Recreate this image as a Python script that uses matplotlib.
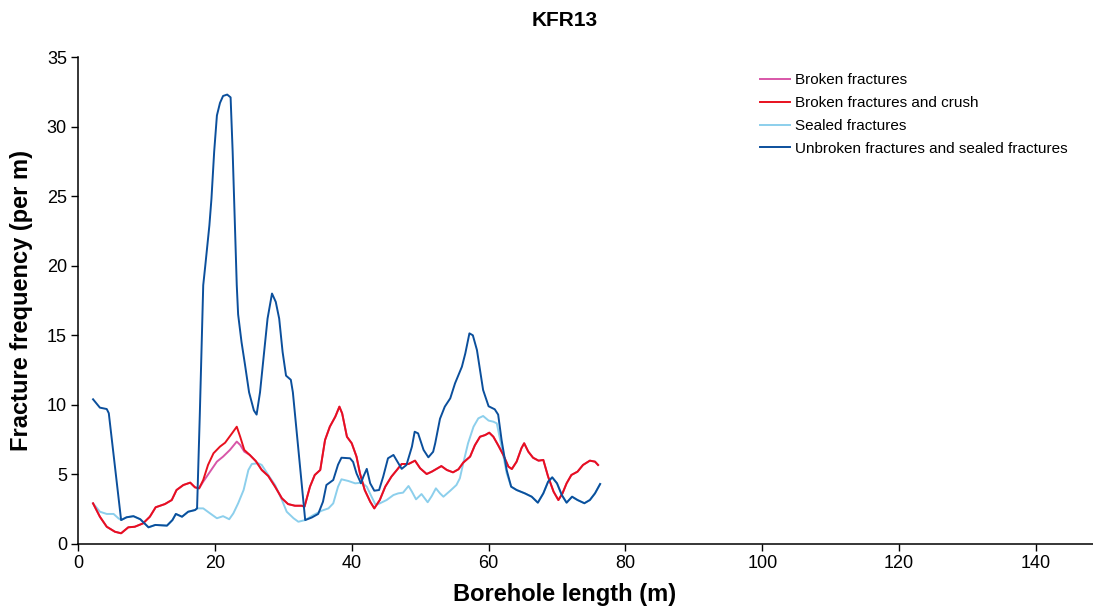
import matplotlib
matplotlib.use("Agg")
import matplotlib.pyplot as plt

plt.rcParams['font.family'] = ['Liberation Sans', 'DejaVu Sans']

title = "KFR13"
xlabel = "Borehole length (m)"
ylabel = "Fracture frequency (per m)"
labels = ["Broken fractures", "Broken fractures and crush",
          "Sealed fractures", "Unbroken fractures and sealed fractures"]
colors = ["#D856A8", "#E8101E", "#8CCFEC", "#0B4F9C"]
xticks = [0, 20, 40, 60, 80, 100, 120, 140]
yticks = [0, 5, 10, 15, 20, 25, 30, 35]

# Unbroken fractures and sealed fractures
blue_x = [2.2, 3.2, 4.2, 4.5, 6.3, 7.1, 8.1, 9.1, 10.3, 11.3, 13.0, 13.8, 14.3, 15.2,
          16.1, 17.1, 17.4, 17.8, 18.3, 18.6, 19.2, 19.5, 19.9, 20.3, 20.75, 21.2, 21.8,
          22.3, 22.6, 22.9, 23.2, 23.4, 23.9, 24.4, 25.0, 25.7, 26.1, 26.6, 27.2, 27.7,
          28.35, 28.9, 29.4, 29.9, 30.4, 31.1, 31.4, 33.2, 34.15, 35.1, 35.8, 36.3, 37.3,
          38.0, 38.5, 39.75, 40.2, 40.7, 41.35, 41.7, 42.2, 42.7, 43.3, 44.0, 44.6, 45.3,
          46.1, 46.7, 47.3, 48.0, 48.8, 49.2, 49.7, 50.5, 51.2, 51.9, 52.2, 52.9, 53.6,
          54.4, 55.1, 56.1, 56.6, 57.2, 57.7, 58.3, 58.75, 59.2, 60.0, 60.9, 61.4, 61.9,
          62.65, 63.3, 64.1, 65.3, 66.3, 67.2, 68.0, 68.7, 69.3, 70.0, 70.7, 71.4, 72.2,
          73.0, 74.0, 74.8, 75.55, 76.3]
blue_y = [10.4, 9.8, 9.7, 9.4, 1.72, 1.92, 2.0, 1.78, 1.2, 1.37, 1.32, 1.72, 2.16, 1.96,
          2.32, 2.44, 2.56, 9.3, 18.6, 20.0, 22.9, 24.8, 28.2, 30.8, 31.7, 32.2, 32.3,
          32.1, 28.2, 23.4, 18.6, 16.5, 14.5, 12.9, 10.9, 9.6, 9.3, 10.9, 13.8, 16.2,
          18.0, 17.4, 16.2, 13.8, 12.1, 11.8, 10.9, 1.72, 1.9, 2.16, 3.04, 4.24, 4.6,
          5.7, 6.2, 6.16, 5.9, 5.08, 4.36, 4.84, 5.4, 4.36, 3.83, 3.88, 4.84, 6.16,
          6.4, 5.9, 5.4, 5.68, 7.0, 8.07, 7.95, 6.76, 6.23, 6.63, 7.24, 9.0, 9.87,
          10.47, 11.55, 12.74, 13.7, 15.14, 15.0, 13.94, 12.5, 11.07, 9.9, 9.68, 9.3, 7.47,
          5.3, 4.12, 3.88, 3.64, 3.4, 2.97, 3.64, 4.48, 4.79, 4.36, 3.52, 2.97, 3.4,
          3.16, 2.93, 3.16, 3.64, 4.31]

# Broken fractures and crush
red_x = [2.2, 3.2, 4.2, 5.4, 6.3, 7.35, 8.3, 9.5, 10.5, 11.35, 12.7, 13.7, 14.4, 15.4,
         16.4, 17.1, 17.7, 18.3, 19.0, 19.8, 20.75, 21.5, 22.5, 23.2, 23.7, 24.3, 25.1,
         26.0, 26.85, 27.8, 28.8, 29.8, 30.7, 31.7, 32.7, 33.1, 33.9, 34.6, 35.4, 36.1,
         36.8, 37.6, 38.2, 38.6, 39.3, 40.0, 40.7, 41.2, 41.9, 42.7, 43.3, 44.1, 44.9,
         45.8, 46.6, 47.3, 48.3, 49.25, 50.0, 50.95, 51.7, 53.1, 53.9, 54.8, 55.6, 56.3,
         57.3, 58.0, 58.75, 59.5, 60.1, 60.7, 61.4, 62.15, 62.9, 63.4, 64.1, 64.8, 65.2,
         65.8, 66.5, 67.3, 68.0, 68.7, 69.5, 70.2, 70.8, 71.4, 72.1, 73.0, 73.8, 74.8,
         75.55, 76.0]
red_y = [2.92, 1.96, 1.24, 0.88, 0.77, 1.2, 1.24, 1.48, 1.96, 2.64, 2.87, 3.16, 3.88, 4.24,
         4.41, 4.07, 4.0, 4.6, 5.68, 6.52, 7.0, 7.28, 7.95, 8.43, 7.71, 6.76, 6.4,
         5.95, 5.32, 4.89, 4.12, 3.28, 2.87, 2.75, 2.75, 2.68, 4.12, 4.96, 5.32, 7.47,
         8.43, 9.15, 9.87, 9.39, 7.71, 7.24, 6.28, 5.08, 3.88, 3.04, 2.56, 3.16, 4.12,
         4.84, 5.32, 5.75, 5.75, 5.99, 5.44, 5.03, 5.2, 5.6, 5.32, 5.15, 5.37, 5.85,
         6.28, 7.1, 7.71, 7.83, 8.0, 7.71, 7.1, 6.4, 5.56, 5.39, 5.92, 6.88, 7.24,
         6.64, 6.2, 5.99, 6.04, 4.84, 3.76, 3.16, 3.64, 4.36, 4.96, 5.2, 5.68, 5.99,
         5.92, 5.68]

# Broken fractures
pink_x = [2.2, 3.2, 4.2, 5.4, 6.3, 7.35, 8.3, 9.5, 10.5, 11.35, 12.7, 13.7, 14.4, 15.4,
          16.4, 17.1, 17.7, 18.3, 19.3, 20.3, 21.2, 22.2, 23.2, 23.7, 24.3, 25.1,
          26.0, 26.85, 27.8, 28.8, 29.8, 30.7, 31.7, 32.7, 33.1, 33.9, 34.6, 35.4, 36.1,
          36.8, 37.6, 38.2, 38.6, 39.3, 40.0, 40.7, 41.2, 41.9, 42.7, 43.3, 44.1, 44.9,
          45.8, 46.6, 47.3, 48.3, 49.25, 50.0, 50.95, 51.7, 53.1, 53.9, 54.8, 55.6, 56.3,
          57.3, 58.0, 58.75, 59.5, 60.1, 60.7, 61.4, 62.15, 62.9, 63.4, 64.1, 64.8, 65.2,
          65.8, 66.5, 67.3, 68.0, 68.7, 69.5, 70.2, 70.8, 71.4, 72.1, 73.0, 73.8, 74.8,
          75.55, 76.0]
pink_y = [2.92, 1.96, 1.24, 0.88, 0.77, 1.2, 1.24, 1.48, 1.96, 2.64, 2.87, 3.16, 3.88, 4.24,
          4.41, 4.07, 4.0, 4.48, 5.2, 5.92, 6.28, 6.76, 7.36, 7.12, 6.64, 6.4,
          5.95, 5.32, 4.89, 4.12, 3.28, 2.87, 2.75, 2.75, 2.68, 4.12, 4.96, 5.32, 7.47,
          8.43, 9.15, 9.87, 9.39, 7.71, 7.24, 6.28, 5.08, 3.88, 3.04, 2.56, 3.16, 4.12,
          4.84, 5.32, 5.75, 5.75, 5.99, 5.44, 5.03, 5.2, 5.6, 5.32, 5.15, 5.37, 5.85,
          6.28, 7.1, 7.71, 7.83, 8.0, 7.71, 7.1, 6.4, 5.56, 5.39, 5.92, 6.88, 7.24,
          6.64, 6.2, 5.99, 6.04, 4.84, 3.76, 3.16, 3.64, 4.36, 4.96, 5.2, 5.68, 5.99,
          5.92, 5.68]

# Sealed fractures
sealed_x = [2.2, 3.2, 4.2, 5.2, 5.9, 6.3, 7.1, 8.1, 9.1, 10.3, 11.3, 13.0, 13.8, 14.3, 15.2,
            16.1, 17.1, 17.4, 18.3, 19.3, 20.3, 21.2, 22.1, 22.7, 23.4, 24.2, 24.9, 25.4,
            26.35, 26.85, 27.8, 28.8, 29.8, 30.5, 31.5, 32.2, 33.2, 34.4, 35.6, 36.6, 37.3,
            38.0, 38.5, 39.5, 40.5, 41.5, 42.2, 42.9, 43.5, 44.1, 45.1, 46.1, 46.8, 47.5,
            48.3, 48.8, 49.4, 50.2, 51.1, 51.7, 52.3, 52.9, 53.4, 54.4, 55.3, 55.8, 56.3,
            57.0, 57.8, 58.5, 59.2, 60.0, 60.7, 61.2, 61.9, 62.65, 63.3, 64.1, 65.3, 66.3,
            67.2, 68.0, 68.7, 69.3, 70.0, 70.7, 71.4, 72.2, 73.0, 74.0, 74.8, 75.55, 76.3]
sealed_y = [2.92, 2.32, 2.16, 2.16, 1.85, 1.72, 1.92, 2.0, 1.78, 1.2, 1.37, 1.32, 1.72, 2.16, 1.96,
            2.32, 2.44, 2.56, 2.56, 2.2, 1.85, 2.0, 1.78, 2.2, 2.92, 3.88, 5.32, 5.75,
            5.8, 5.68, 4.96, 4.24, 3.16, 2.32, 1.85, 1.6, 1.72, 2.08, 2.39, 2.56, 2.92,
            4.12, 4.65, 4.53, 4.36, 4.41, 4.12, 3.4, 2.8, 2.92, 3.16, 3.52, 3.64, 3.69,
            4.17, 3.76, 3.21, 3.59, 3.0, 3.45, 4.0, 3.64, 3.4, 3.83, 4.24, 4.72, 5.8,
            7.24, 8.43, 9.03, 9.2, 8.87, 8.79, 8.67, 7.0, 5.08, 4.12, 3.88, 3.64, 3.4,
            2.97, 3.64, 4.48, 4.79, 4.36, 3.52, 2.97, 3.4, 3.16, 2.93, 3.16, 3.64, 4.31]

fig = plt.figure(figsize=(10.93, 6.12), dpi=100)
ax = fig.add_axes([78 / 1093, 1 - 544 / 612, 1 - 78 / 1093, (544 - 57) / 612])

series = [(pink_x, pink_y), (red_x, red_y), (sealed_x, sealed_y), (blue_x, blue_y)]
order = [2, 0, 1, 3]
handles = [None] * 4
for i in order:
    xs, ys = series[i]
    ln, = ax.plot(xs, ys, color=colors[i], lw=1.4, label=labels[i],
                  solid_joinstyle='round')
    handles[i] = ln

ax.set_xlim(0, (1093 - 78) / 6.843)
ax.set_ylim(0, 35)
ax.set_xticks(xticks)
ax.set_yticks(yticks)
ax.tick_params(direction='out', length=5, width=1, labelsize=13, pad=3, colors='black')
for s in ['top', 'right']:
    ax.spines[s].set_visible(False)
for s in ['left', 'bottom']:
    ax.spines[s].set_linewidth(1.1)

ax.set_xlabel(xlabel, fontsize=17, fontweight='bold')
ax.set_ylabel(ylabel, fontsize=17, fontweight='bold')
ax.xaxis.set_label_coords((565 - 78) / (1093 - 78), -0.08)
ax.yaxis.set_label_coords(-0.044, 0.5)
fig.text(565 / 1093, 1 - 20 / 612, title, ha='center', va='center',
         fontsize=15, fontweight='bold')

ax.legend(handles=handles, labels=labels, loc='upper left',
          bbox_to_anchor=((746 - 78) / (1093 - 78), 0.995), frameon=False,
          fontsize=11, handlelength=1.95, handletextpad=0.35, labelspacing=0.58)

fig.savefig("out.png", dpi=100)
